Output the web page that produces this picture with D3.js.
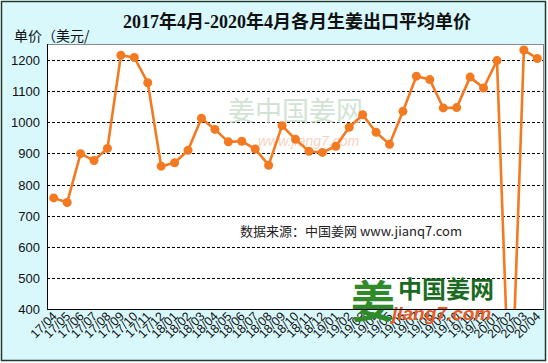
<!DOCTYPE html>
<html>
<head>
<meta charset="utf-8">
<script src="https://cdn.jsdelivr.net/npm/d3@7"></script>
<style>
  body { margin: 0; background: #fff; }
  svg { display: block; }
</style>
</head>
<body>
<script>
// months, 17/04 .. 20/04
const months = ["17/04","17/05","17/06","17/07","17/08","17/09","17/10","17/11","17/12",
  "18/01","18/02","18/03","18/04","18/05","18/06","18/07","18/08","18/09","18/10","18/11","18/12",
  "19/01","19/02","19/03","19/04","19/05","19/06","19/07","19/08","19/09","19/10","19/11","19/12",
  "20/01","20/02","20/03","20/04"];
// average unit price (USD/t)
const prices = [757, 742, 899, 877, 916, 1215, 1208, 1127, 859,
  870, 910, 1013, 977, 937, 939, 914, 862, 989, 945, 907, 903,
  923, 984, 1024, 968, 929, 1035, 1148, 1137, 1046, 1047, 1145, 1110,
  1198, 0, 1232, 1205];
const yTicks = [400, 500, 600, 700, 800, 900, 1000, 1100, 1200];

const W = 548, H = 363;
const plot = {left: 47, right: 544, top: 44, bottom: 309};

const svg = d3.select("body").append("svg")
  .attr("width", W).attr("height", H);

// outer frame
svg.append("rect")
  .attr("x", 1.5).attr("y", 1.5)
  .attr("width", 544).attr("height", 359)
  .attr("fill", "#d8f8fc")
  .attr("stroke", "#1e3a2e").attr("stroke-width", 1.5);

// plot background
svg.append("rect")
  .attr("x", plot.left).attr("y", plot.top)
  .attr("width", plot.right - plot.left).attr("height", plot.bottom - plot.top)
  .attr("fill", "#fff");

const x = d3.scalePoint().domain(months).range([plot.left, plot.right]).padding(0.5);
const y = d3.scaleLinear().domain([400, 1200]).range([plot.bottom, 60]);

// dashed grid
svg.append("g").selectAll("line")
  .data(yTicks.filter(d => d > 400))
  .enter().append("line")
  .attr("x1", plot.left).attr("x2", plot.right)
  .attr("y1", d => Math.round(y(d)) + 0.5).attr("y2", d => Math.round(y(d)) + 0.5)
  .attr("stroke", "#000").attr("stroke-dasharray", "3,2");

// faint watermark in the middle
svg.append("text")
  .attr("x", 228).attr("y", 121)
  .attr("font-family", "Noto Sans CJK SC").attr("font-size", 27)
  .attr("fill", "#c3d9c8").attr("opacity", 0.75)
  .text("姜中国姜网");
svg.append("text")
  .attr("x", 258).attr("y", 146)
  .attr("font-family", "Arial, Liberation Sans").attr("font-size", 14)
  .attr("font-style", "italic")
  .attr("fill", "#f6d2be")
  .text("www.jiang7.com");

// y axis labels
svg.append("g").selectAll("text")
  .data(yTicks)
  .enter().append("text")
  .attr("x", 40).attr("y", d => y(d) + 5)
  .attr("text-anchor", "end")
  .attr("font-family", "Arial, Liberation Sans").attr("font-size", 13)
  .attr("fill", "#111")
  .text(d => d);

// x axis labels, rotated
svg.append("g").selectAll("text")
  .data(months)
  .enter().append("text")
  .attr("transform", d => "translate(" + (x(d) + 4) + "," + (plot.bottom + 8) + ") rotate(-45)")
  .attr("text-anchor", "end")
  .attr("font-family", "Arial, Liberation Sans").attr("font-size", 12.5)
  .attr("fill", "#111")
  .text(d => d);

// source note
svg.append("text")
  .attr("x", 240).attr("y", 236)
  .attr("font-family", "Noto Sans CJK SC").attr("font-size", 13)
  .attr("fill", "#222")
  .text("数据来源：中国姜网 www.jianq7.com");

// bottom logo
const logo = svg.append("g");
logo.append("text")
  .attr("x", 351).attr("y", 318)
  .attr("font-family", "Noto Sans CJK SC").attr("font-weight", "bold").attr("font-size", 44)
  .attr("fill", "#2f8a2a")
  .text("姜");
logo.append("text")
  .attr("x", 398).attr("y", 298)
  .attr("font-family", "Noto Sans CJK SC").attr("font-weight", "bold").attr("font-size", 24)
  .attr("fill", "#1a6b1f")
  .text("中国姜网");
logo.append("text")
  .attr("x", 392).attr("y", 320)
  .attr("font-family", "Arial, Liberation Sans").attr("font-weight", "bold")
  .attr("font-style", "italic").attr("font-size", 19)
  .attr("fill", "#ee5a1e")
  .text("jiang7.com");

// clip for the series
svg.append("clipPath").attr("id", "clip")
  .append("rect")
  .attr("x", plot.left).attr("y", plot.top)
  .attr("width", plot.right - plot.left).attr("height", plot.bottom - plot.top);

const series = svg.append("g").attr("clip-path", "url(#clip)");
const line = d3.line()
  .x((d, i) => x(months[i]))
  .y(d => y(d));

series.append("path")
  .datum(prices)
  .attr("d", line)
  .attr("fill", "none")
  .attr("stroke", "#f37a21").attr("stroke-width", 2.6)
  .attr("stroke-linejoin", "round");

series.selectAll("circle")
  .data(prices)
  .enter().append("circle")
  .attr("cx", (d, i) => x(months[i]))
  .attr("cy", d => y(d))
  .attr("r", 4.5)
  .attr("fill", "#f37a21");

// plot border
svg.append("rect")
  .attr("x", plot.left + 0.5).attr("y", plot.top + 0.5)
  .attr("width", plot.right - plot.left - 1).attr("height", plot.bottom - plot.top)
  .attr("fill", "none")
  .attr("stroke", "#8a8a8a").attr("stroke-width", 1);
svg.append("line")
  .attr("x1", plot.left + 0.5).attr("x2", plot.left + 0.5)
  .attr("y1", plot.top).attr("y2", plot.bottom + 0.5)
  .attr("stroke", "#000");
svg.append("line")
  .attr("x1", plot.left).attr("x2", plot.right)
  .attr("y1", plot.bottom + 0.5).attr("y2", plot.bottom + 0.5)
  .attr("stroke", "#000");

// titles
svg.append("text")
  .attr("x", 297).attr("y", 28)
  .attr("text-anchor", "middle")
  .attr("font-family", "Times New Roman, Liberation Serif, Noto Sans CJK SC")
  .attr("font-weight", "bold").attr("font-size", 18)
  .attr("fill", "#111")
  .text("2017年4月-2020年4月各月生姜出口平均单价");
svg.append("text")
  .attr("x", 14).attr("y", 41)
  .attr("font-family", "Noto Sans CJK SC").attr("font-size", 14)
  .attr("fill", "#111")
  .text("单价（美元/");
</script>
</body>
</html>
